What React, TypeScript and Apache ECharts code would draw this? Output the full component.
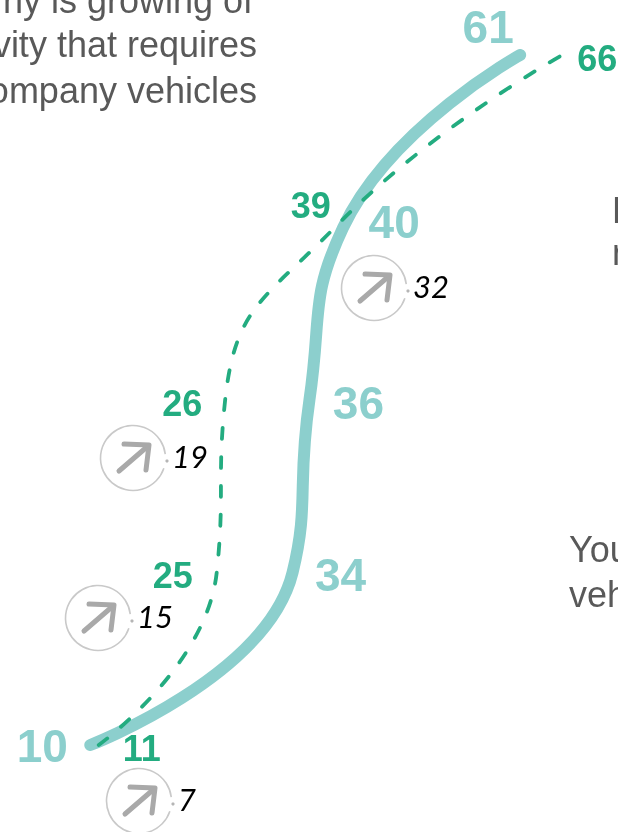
import React, { useEffect, useRef } from "react";
import * as echarts from "echarts";

const rows = ["r1", "r2", "r3", "r4", "r5"];
const solidValues = [10, 34, 36, 40, 61];
const dashedValues = [11, 25, 26, 39, 66];
const trendValues = [7, 15, 19, 32];

const solidLabelOffsets = [[-48, 1], [48, 2], [49, 3], [51, -6], [-32, -28]];
const dashedLabelOffsets = [[43, 3], [-44, 3], [-43, 3], [-24, -22], [35, 3]];
const trendCentres = [[139, 801], [98, 618], [133, 458], [374, 288]];

const leftLines = ["ny is growing of", "vity that requires", "ompany vehicles"];
const leftRightEdges = [253, 257, 257];
const leftBaselines = [13, 57, 103];
const rightLines = [
  { text: "E", x: 612, y: 223 },
  { text: "n", x: 612, y: 265 },
  { text: "You", x: 569, y: 562 },
  { text: "veh", x: 569, y: 607 },
];

const TEAL = "#8ccfcd";
const GREEN = "#23ac80";
const GREY = "#595959";
const SANS = "'Liberation Sans', Arial, sans-serif";

function series(values: number[], offsets: number[][], color: string, size: number, lineStyle: any, z: number) {
  return {
    type: "line",
    z,
    smooth: 0.5,
    showSymbol: true,
    showAllSymbol: true,
    symbol: "circle",
    symbolSize: 1,
    itemStyle: { color: "transparent" },
    lineStyle,
    data: values.map((v, i) => ({
      value: [v, rows[i]],
      label: {
        show: true,
        position: "inside",
        offset: offsets[i],
        formatter: String(v),
        color,
        fontFamily: SANS,
        fontWeight: "bold",
        fontSize: size,
        align: "center",
        verticalAlign: "middle",
      },
    })),
  };
}

function trendIcon(value: number, c: number[]) {
  const [cx, cy] = c;
  const arrow = { stroke: "#a9a9a9", lineWidth: 5, lineCap: "round", lineJoin: "round", fill: "none" };
  return [
    {
      type: "arc",
      shape: { cx, cy, r: 32.5, startAngle: 0.32, endAngle: -0.12, clockwise: true },
      style: { stroke: "#c9c9c9", lineWidth: 1.6, fill: "none" },
    },
    { type: "circle", shape: { cx: cx + 34, cy: cy + 3, r: 1.6 }, style: { fill: "#b5b5b5" } },
    { type: "line", shape: { x1: cx - 14, y1: cy + 13, x2: cx + 15, y2: cy - 12 }, style: arrow },
    {
      type: "polyline",
      shape: { points: [[cx - 9, cy - 14], [cx + 16, cy - 13], [cx + 13, cy + 12]] },
      style: arrow,
    },
    {
      type: "text",
      x: cx + 39,
      y: cy - 2,
      style: {
        text: String(value),
        fontFamily: "Lato, sans-serif",
        fontStyle: "italic",
        fontSize: 31,
        fill: "#000",
        align: "left",
        verticalAlign: "middle",
      },
    },
  ];
}

export default function App() {
  const ref = useRef<HTMLDivElement>(null);
  useEffect(() => {
    const chart = echarts.init(ref.current!, undefined, { renderer: "svg" });
    const bodyText = (text: string, x: number, baseline: number, align: string) => ({
      type: "text",
      x,
      y: baseline - 13,
      style: { text, fontFamily: SANS, fontSize: 36, fill: GREY, align, verticalAlign: "middle" },
    });
    chart.setOption({
      animation: false,
      grid: { left: 6, right: 22, top: 55, bottom: 87 },
      xAxis: { type: "value", min: 0, max: 70, show: false },
      yAxis: { type: "category", data: rows, boundaryGap: false, show: false },
      series: [
        series(solidValues, solidLabelOffsets, TEAL, 46, { color: TEAL, width: 12, cap: "round" }, 2),
        series(dashedValues, dashedLabelOffsets, GREEN, 36, { color: GREEN, width: 3.8, type: [11, 18], cap: "round" }, 3),
      ],
      graphic: [
        ...leftLines.map((t, i) => bodyText(t, leftRightEdges[i], leftBaselines[i], "right")),
        ...rightLines.map((l) => bodyText(l.text, l.x, l.y, "left")),
        ...trendValues.flatMap((v, i) => trendIcon(v, trendCentres[i])),
      ],
    });
    return () => chart.dispose();
  }, []);
  return <div ref={ref} style={{ position: "fixed", left: 0, top: 0, width: 618, height: 832 }} />;
}
